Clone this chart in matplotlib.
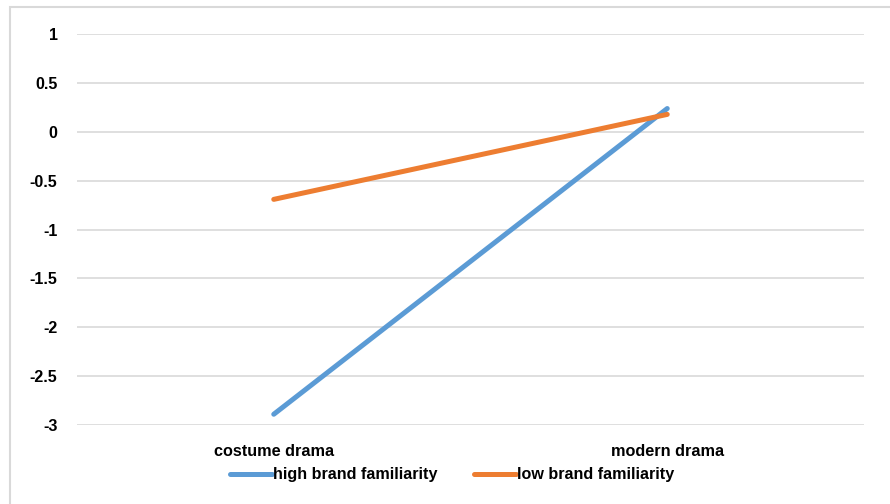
import matplotlib
matplotlib.use("Agg")
import matplotlib.pyplot as plt
from matplotlib.patches import Rectangle

# 데이터
categories = ["costume drama", "modern drama"]
high_familiarity = [-2.89, 0.24]
low_familiarity = [-0.69, 0.18]
yticks = [1, 0.5, 0, -0.5, -1, -1.5, -2, -2.5, -3]
ytick_labels = ["1", "0.5", "0", "-0.5", "-1", "-1.5", "-2", "-2.5", "-3"]

plt.rcParams['font.family'] = ['Liberation Sans', 'DejaVu Sans']

fig = plt.figure(figsize=(8.9, 5.04), dpi=100)
ax = fig.add_axes([77/890, 1-425/504, (864-77)/890, (425-34.3)/504])

# 바깥 테두리
fig.patches.append(Rectangle((10/890, -0.1), 1.2, 1-7.5/504+0.1, transform=fig.transFigure,
                             fill=False, edgecolor='#D9D9D9', linewidth=1.5))

x = range(len(categories))
ax.plot(x, high_familiarity, color='#5B9BD5', linewidth=3.6, solid_capstyle='round',
        label='high brand familiarity', clip_on=False)
ax.plot(x, low_familiarity, color='#ED7D31', linewidth=3.6, solid_capstyle='round',
        label='low brand familiarity', clip_on=False)

ax.set_xlim(-0.5, 1.5)
ax.set_ylim(-3, 1)
ax.set_yticks(yticks)
ax.set_yticklabels(ytick_labels, fontsize=11.6, fontweight='bold')
ax.set_xticks(list(x))
ax.set_xticklabels(categories, fontsize=11.7, fontweight='bold')
ax.tick_params(axis='both', length=0)
ax.tick_params(axis='y', pad=14)
ax.tick_params(axis='x', pad=14)
ax.grid(axis='y', color='#D9D9D9', linewidth=1.2)
ax.set_axisbelow(True)
for s in ax.spines.values():
    s.set_visible(False)

leg = fig.legend(loc='center', bbox_to_anchor=(452/890, 1-475/504), ncol=2, frameon=False,
                 prop={'size': 11.6, 'weight': 'bold'}, handlelength=2.6,
                 handletextpad=0.05, columnspacing=2.3, borderpad=0, borderaxespad=0)

fig.savefig("out.png", dpi=100)
